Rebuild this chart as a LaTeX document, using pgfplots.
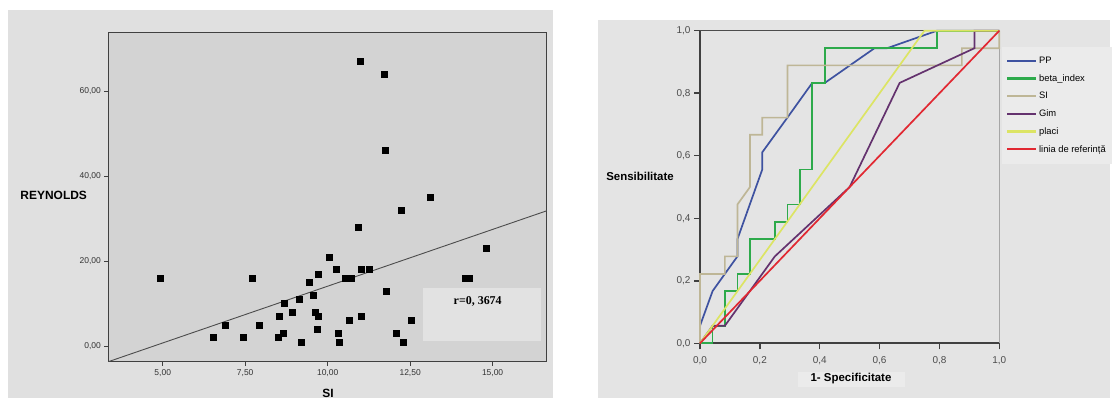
\documentclass[border=0pt]{standalone}
\usepackage{pgfplots}
\pgfplotsset{compat=1.18}
\usepackage{fontspec}
\setmainfont{Liberation Sans}
\newfontfamily\timesf{Liberation Serif}
\definecolor{panelL}{RGB}{224,224,224}
\definecolor{plotL}{RGB}{211,211,211}
\definecolor{panelR}{RGB}{228,228,228}
\definecolor{legbg}{RGB}{235,235,235}
\definecolor{rbox}{RGB}{226,226,226}
\definecolor{cPP}{RGB}{62,82,160}
\definecolor{cBeta}{RGB}{45,170,75}
\definecolor{cSI}{RGB}{190,182,150}
\definecolor{cGim}{RGB}{100,50,110}
\definecolor{cPlaci}{RGB}{220,228,100}
\definecolor{cRef}{RGB}{225,40,50}
\begin{document}
\begin{tikzpicture}
\path[use as bounding box] (0bp,0bp) rectangle (1116bp,402bp);
\fill[white] (0bp,0bp) rectangle (1116bp,402bp);
\fill[panelL] (8bp,4bp) rectangle (553bp,392bp);
\fill[panelR] (598bp,4bp) rectangle (1110bp,382bp);
\fill[legbg] (798bp,15.3bp) rectangle (905bp,30.3bp);

% ---------- left scatter ----------
\begin{axis}[at={(108.3bp,40.3bp)}, anchor=south west, scale only axis,
  width=438.4bp, height=329bp,
  xmin=3.35, xmax=16.64, ymin=-3.7, ymax=73.7,
  axis background/.style={fill=plotL},
  axis line style={draw=black!75, line width=1.2bp},
  tick align=outside, major tick length=4bp,
  tick style={black!75, line width=0.8bp},
  xtick={5,7.5,10,12.5,15}, ytick={0,20,40,60},
  xtick pos=bottom, ytick pos=left,
  ticklabel style={font=\fontsize{8.5}{9}\selectfont, text=black!80},
  /pgf/number format/use comma, /pgf/number format/fixed,
  /pgf/number format/fixed zerofill, /pgf/number format/precision=2,
  /pgf/number format/assume math mode=true]
\addplot[black!70, line width=0.9bp] coordinates {(3.35,-3.7) (16.64,31.8)};
\addplot[only marks, mark=square*, mark size=3bp, mark options={fill=black, draw=black}] coordinates {
(4.92,16) (7.70,16) (6.54,2) (6.88,5) (7.43,2) (7.91,5) (8.51,2) (8.64,3)
(8.53,7) (8.68,10) (8.92,8) (9.14,11) (9.19,1) (9.45,15) (9.57,12) (9.61,8)
(9.70,7) (9.67,4) (9.72,17) (10.04,21) (10.25,18) (10.31,3) (10.36,1) (10.54,16)
(10.70,16) (10.65,6) (10.94,28) (11.00,67) (11.02,18) (11.02,7) (11.27,18) (11.72,64)
(11.75,46) (11.77,13) (12.08,3) (12.22,32) (12.28,1) (12.53,6) (13.11,35) (14.17,16)
(14.30,16) (14.80,23)};
\end{axis}
\fill[rbox] (422.7bp,61.3bp) rectangle (540.7bp,113.7bp);
\node[font=\timesf\bfseries\fontsize{12}{12}\selectfont] at (477.7bp,100.3bp) {r=0, 3674};
\node[font=\bfseries\fontsize{12}{12}\selectfont] at (53.7bp,207bp) {REYNOLDS};
\node[font=\bfseries\fontsize{12}{12}\selectfont] at (328bp,9bp) {SI};

% ---------- right ROC ----------
\begin{axis}[at={(700bp,58.7bp)}, anchor=south west, scale only axis,
  width=299.3bp, height=312.6bp,
  xmin=0, xmax=1, ymin=0, ymax=1, clip=false,
  axis x line*=bottom, axis y line*=left,
  axis line style={draw=black!75, line width=2bp, -},
  tick align=outside, major tick length=6bp,
  tick style={black!75, line width=1.5bp},
  xtick={0,0.2,0.4,0.6,0.8,1}, ytick={0,0.2,0.4,0.6,0.8,1},
  ticklabel style={font=\fontsize{10}{10}\selectfont, text=black!70},
  xticklabel style={yshift=-4bp},
  /pgf/number format/use comma, /pgf/number format/fixed,
  /pgf/number format/fixed zerofill, /pgf/number format/precision=1,
  /pgf/number format/assume math mode=true,
  legend cell align=left,
  legend image code/.code={\draw[#1, line width=2.2bp] (0bp,0bp) -- (29bp,0bp);},
  legend style={at={(1.008,0.9488)}, anchor=north west, draw=none, fill=legbg,
    font=\fontsize{9.4}{10}\selectfont,
    inner xsep=4bp, inner ysep=8bp, row sep=5.5bp,
    /tikz/every even column/.append style={column sep=4bp}},
  every axis plot/.append style={line width=1.7bp}]
\addplot[black!70, line width=1bp, forget plot] coordinates {(0,1) (1,1)};
\addplot[gray!70, line width=1.2bp, forget plot] coordinates {(1,0) (1,0.944)};
\addplot[draw=cPP] coordinates {(0,0) (0,0.056) (0.042,0.167) (0.083,0.222) (0.125,0.278) (0.125,0.333) (0.208,0.556) (0.208,0.611) (0.292,0.722) (0.375,0.833) (0.417,0.833) (0.583,0.944) (0.625,0.944) (0.792,1) (1,1)};
\addlegendentry{PP}
\addplot[draw=cBeta] coordinates {(0,0) (0.042,0) (0.042,0.056) (0.083,0.056) (0.083,0.167) (0.125,0.167) (0.125,0.222) (0.167,0.222) (0.167,0.333) (0.25,0.333) (0.25,0.389) (0.292,0.389) (0.292,0.444) (0.333,0.444) (0.333,0.556) (0.375,0.556) (0.375,0.833) (0.417,0.833) (0.417,0.944) (0.792,0.944) (0.792,1) (1,1)};
\addlegendentry{beta\_index}
\addplot[draw=cSI] coordinates {(0,0) (0,0.222) (0.083,0.222) (0.083,0.278) (0.125,0.278) (0.125,0.444) (0.167,0.5) (0.167,0.667) (0.208,0.667) (0.208,0.722) (0.292,0.722) (0.292,0.889) (0.875,0.889) (0.875,0.944) (1,0.944) (1,1)};
\addlegendentry{SI}
\addplot[draw=cGim] coordinates {(0,0) (0.042,0.056) (0.083,0.056) (0.25,0.278) (0.5,0.5) (0.667,0.833) (0.917,0.944) (0.917,1) (1,1)};
\addlegendentry{Gim}
\addplot[draw=cPlaci] coordinates {(0,0) (0.75,1) (1,1)};
\addlegendentry{placi}
\addplot[draw=cRef] coordinates {(0,0) (1,1)};
\addlegendentry{linia de referință}
\end{axis}
\node[font=\bfseries\fontsize{11.5}{12}\selectfont] at (640bp,226bp) {Sensibilitate};
\node[font=\bfseries\fontsize{11.5}{12}\selectfont] at (851bp,23bp) {1- Specificitate};
\end{tikzpicture}
\end{document}
